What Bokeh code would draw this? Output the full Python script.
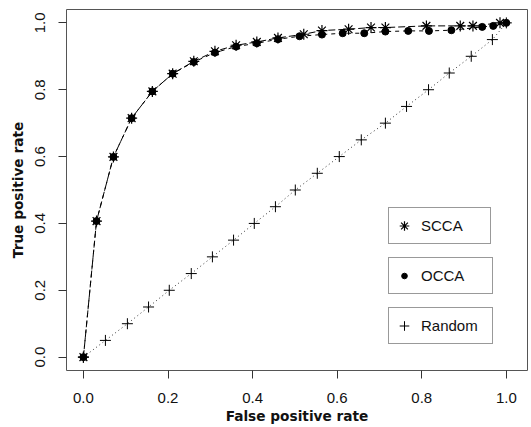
from bokeh.plotting import figure
from bokeh.models import Legend, LegendItem, FixedTicker, Range1d
from bokeh.embed import file_html
from bokeh.resources import INLINE

# ---- data ----
fpr_scca = [0, 0.031, 0.071, 0.114, 0.163, 0.211, 0.261, 0.311, 0.361, 0.41, 0.46,
            0.521, 0.564, 0.627, 0.68, 0.714, 0.811, 0.891, 0.921, 0.985]
tpr_scca = [0, 0.407, 0.599, 0.715, 0.795, 0.848, 0.885, 0.915, 0.933, 0.943, 0.955,
            0.966, 0.977, 0.981, 0.986, 0.986, 0.991, 0.991, 0.991, 1.0]

fpr_occa = [0, 0.031, 0.071, 0.114, 0.163, 0.211, 0.261, 0.311, 0.361, 0.41, 0.46,
            0.511, 0.564, 0.613, 0.664, 0.714, 0.768, 0.817, 0.870, 0.943, 0.969, 1.0]
tpr_occa = [0, 0.407, 0.599, 0.715, 0.795, 0.848, 0.883, 0.911, 0.929, 0.939, 0.951,
            0.960, 0.965, 0.969, 0.969, 0.974, 0.976, 0.976, 0.978, 0.988, 0.991, 1.0]

fpr_rand = [0, 0.052, 0.104, 0.154, 0.203, 0.255, 0.305, 0.355, 0.404, 0.454, 0.501,
            0.553, 0.605, 0.657, 0.714, 0.764, 0.816, 0.865, 0.917, 0.967, 1.0]
tpr_rand = [0, 0.05, 0.10, 0.15, 0.20, 0.25, 0.30, 0.35, 0.40, 0.45, 0.50,
            0.55, 0.60, 0.65, 0.70, 0.75, 0.80, 0.85, 0.90, 0.95, 1.0]

ticks = [0.0, 0.2, 0.4, 0.6, 0.8, 1.0]
tick_labels = {0.0: "0.0", 0.2: "0.2", 0.4: "0.4", 0.6: "0.6", 0.8: "0.8", 1.0: "1.0"}
series_names = ["SCCA", "OCCA", "Random"]

p = figure(width=531, height=427, output_backend="svg", toolbar_location=None,
           x_range=Range1d(-0.04, 1.05), y_range=Range1d(-0.04, 1.04),
           min_border_left=66, min_border_right=4, min_border_top=9,
           min_border_bottom=57, background_fill_color="white",
           border_fill_color="white")
p.grid.visible = False
p.outline_line_color = "#555555"
p.outline_line_width = 1

# lines
p.line(fpr_scca, tpr_scca, line_color="black", line_width=1, line_dash="7 3")
p.line(fpr_occa, tpr_occa, line_color="black", line_width=1, line_dash="4 4")
p.line(fpr_rand, tpr_rand, line_color="#333333", line_width=1, line_dash="1 3")

# markers
r_scca = p.scatter(fpr_scca, tpr_scca, marker="asterisk", size=11,
                   line_color="black", line_width=1.2)
r_occa = p.scatter(fpr_occa, tpr_occa, marker="circle", size=7,
                   fill_color="black", line_color="black")
r_rand = p.scatter(fpr_rand, tpr_rand, marker="cross", size=11,
                   line_color="black", line_width=1)

# axes
for ax in (p.xaxis[0], p.yaxis[0]):
    ax.ticker = FixedTicker(ticks=ticks)
    ax.major_label_overrides = tick_labels
    ax.minor_tick_line_color = None
    ax.axis_line_color = None
    ax.major_tick_line_color = "#333333"
    ax.major_tick_in = 0
    ax.major_tick_out = 8
    ax.major_label_text_font = "Liberation Sans"
    ax.major_label_text_font_size = "15px"
    ax.major_label_text_color = "#111111"
    ax.axis_label_text_font = "DejaVu Sans"
    ax.axis_label_text_font_style = "bold"
    ax.axis_label_text_font_size = "13.7px"
    ax.axis_label_text_color = "#111111"

p.xaxis.axis_label = "False positive rate"
p.yaxis.axis_label = "True positive rate"
p.xaxis.major_label_standoff = 14
p.xaxis.axis_label_standoff = 2
p.yaxis.major_label_standoff = 13
p.yaxis.axis_label_standoff = 7
p.yaxis.major_label_orientation = "vertical"

# legends: three separate boxes
legend_cfg = [
    # name, renderer, y offset, padding, glyph_w, glyph_h, standoff, label_w
    ("SCCA", r_scca, 126, 3, 24, 29, 5, 66),
    ("OCCA", r_occa, 76, 8, 14, 19, 10, 63),
    ("Random", r_rand, 26, 3, 24, 29, 5, 68),
]
for name, rend, ypos, pad, gw, gh, so, lw in legend_cfg:
    lg = Legend(items=[LegendItem(label=name, renderers=[rend])],
                location=(322, ypos), orientation="vertical",
                border_line_color="#333333", border_line_width=1,
                background_fill_color="white", background_fill_alpha=1.0,
                padding=pad, margin=0, spacing=0,
                glyph_width=gw, glyph_height=gh, label_standoff=so,
                label_width=lw, label_text_font="Liberation Sans",
                label_text_font_size="15px", label_text_color="#111111")
    p.add_layout(lg, "center")

open("out.html", "w").write(file_html(p, INLINE))
